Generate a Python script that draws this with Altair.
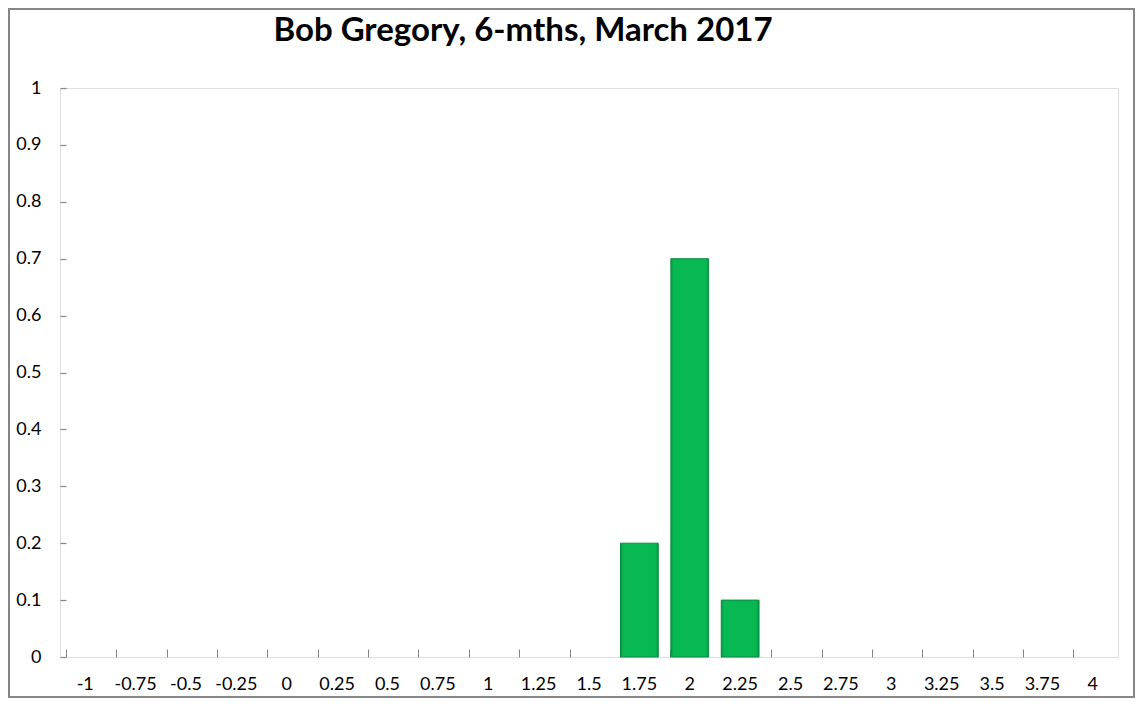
import altair as alt
import pandas as pd

categories = ["-1", "-0.75", "-0.5", "-0.25", "0", "0.25", "0.5", "0.75", "1", "1.25",
              "1.5", "1.75", "2", "2.25", "2.5", "2.75", "3", "3.25", "3.5", "3.75", "4"]
values = [0, 0, 0, 0, 0, 0, 0, 0, 0, 0,
          0, 0.2, 0.7, 0.1, 0, 0, 0, 0, 0, 0, 0]
y_ticks = [0, 0.1, 0.2, 0.3, 0.4, 0.5, 0.6, 0.7, 0.8, 0.9, 1]
title_text = "Bob Gregory, 6-mths, March 2017"

W, H = 1058, 569
FONT = "Lato"
GRAY = "#868686"

bars_df = pd.DataFrame({"cat": categories, "v": values})

xscale = alt.Scale(domain=categories, paddingInner=0.25, paddingOuter=0.125)
yscale = alt.Scale(domain=[0, 1], nice=False)

bar_fill = alt.Gradient(
    gradient="linear", x1=0, x2=1, y1=0, y2=0,
    stops=[alt.GradientStop(color="#069a46", offset=0),
           alt.GradientStop(color="#08b853", offset=0.08),
           alt.GradientStop(color="#08b853", offset=0.92),
           alt.GradientStop(color="#069a46", offset=1)],
)

bars = alt.Chart(bars_df).mark_bar(
    fill=bar_fill, stroke="#0a8c40", strokeWidth=1
).encode(
    x=alt.X("cat:O", scale=xscale,
            axis=alt.Axis(title=None, labelAngle=0, domain=False, ticks=True,
                          tickSize=8, tickColor=GRAY, tickWidth=1, bandPosition=0,
                          offset=-8, labelPadding=18,
                          labelFont=FONT, labelFontSize=18, labelColor="#000000",
                          labelBaseline="top")),
    y=alt.Y("v:Q", scale=yscale,
            axis=alt.Axis(title=None, values=y_ticks, format="~g", domain=False,
                          ticks=True, tickSize=6, tickColor=GRAY, tickWidth=1.2,
                          offset=-6, grid=False, labelPadding=19, labelFont=FONT,
                          labelFontSize=18, labelColor="#000000")),
).transform_filter(alt.datum.v > 0)

frame = alt.Chart(pd.DataFrame({"a": [0]})).mark_rect(
    filled=False, stroke=GRAY, strokeWidth=2
).encode(
    x=alt.value(-51), x2=alt.value(W + 16),
    y=alt.value(-79), y2=alt.value(H + 40),
)

chart = alt.layer(frame, bars).properties(
    width=W, height=H,
    title=alt.TitleParams(text=title_text, font=FONT, fontSize=33, fontWeight="bold",
                          color="#000000", anchor="middle", dx=-66, offset=-66,
                          baseline="alphabetic"),
    autosize=alt.AutoSizeParams(type="none"),
    padding={"left": 52, "top": 80, "right": 17, "bottom": 41},
).configure_view(stroke=GRAY, strokeWidth=1).configure(background="white")

chart.save("out.html", embed_options={"renderer": "svg", "actions": False})
